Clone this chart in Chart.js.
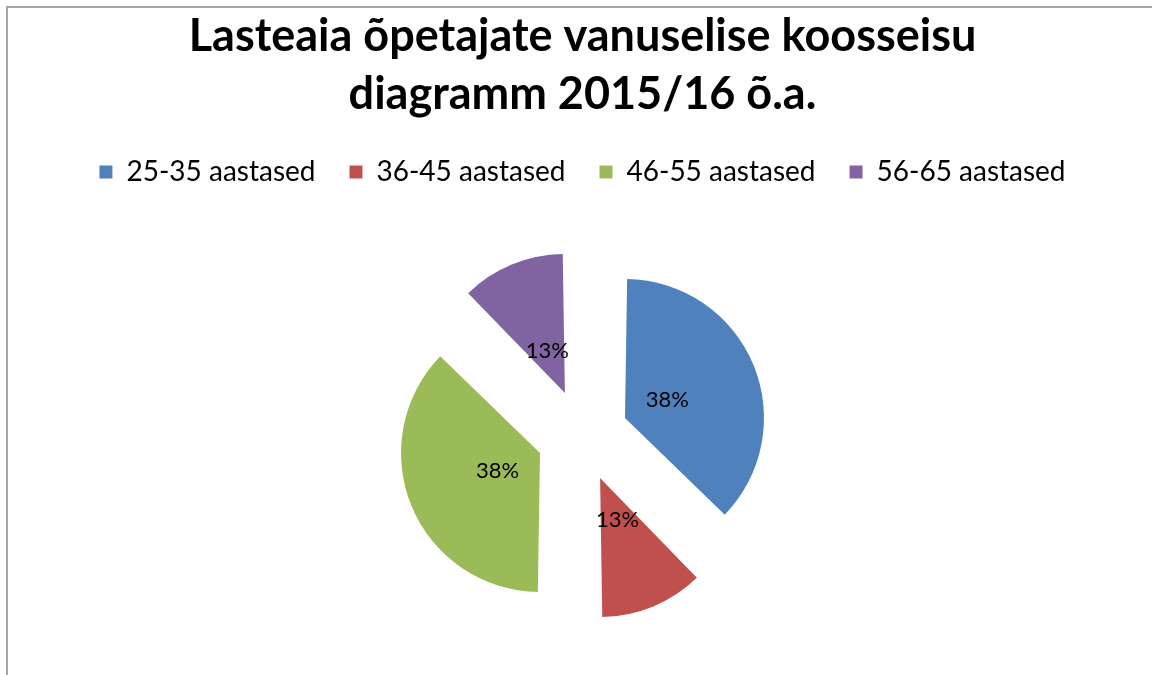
<!DOCTYPE html>
<html>
<head>
<meta charset="utf-8">
<script src="https://cdn.jsdelivr.net/npm/chart.js@4.4.1/dist/chart.umd.min.js"></script>
<style>
    html, body {
        margin: 0;
        padding: 0;
        background: #ffffff;
        overflow: hidden;
    }
    .frame {
        position: absolute;
        left: 6px;
        top: 6px;
        width: 1146px;
        height: 669px;
        border-top: 2px solid #a6a6a6;
        border-left: 2px solid #a6a6a6;
        box-sizing: border-box;
    }
    .chart-box {
        position: absolute;
        left: 13px;
        top: 0;
        width: 1139px;
        height: 675px;
    }
</style>
</head>
<body>
<div class="frame"></div>
<div class="chart-box">
    <canvas id="agePieChart"></canvas>
</div>
<script>
// Chart data
var titleLines = ['Lasteaia õpetajate vanuselise koosseisu', 'diagramm 2015/16 õ.a.'];
var ageGroups = ['25-35 aastased', '36-45 aastased', '46-55 aastased', '56-65 aastased'];
var teacherCounts = [3, 1, 3, 1];
var sliceColors = ['#4F81BD', '#C0504D', '#9BBB59', '#8064A2'];

// Percent labels inside the exploded slices
var sliceLabels = {
    id: 'sliceLabels',
    afterDatasetsDraw(chart) {
        var ctx = chart.ctx;
        var meta = chart.getDatasetMeta(0);
        var total = teacherCounts.reduce((a, b) => a + b, 0);
        ctx.save();
        ctx.font = '22px Lato';
        ctx.fillStyle = '#000000';
        ctx.textAlign = 'center';
        ctx.textBaseline = 'middle';
        meta.data.forEach((arc, i) => {
            var p = arc.getProps(['x', 'y', 'startAngle', 'endAngle', 'outerRadius', 'circumference'], true);
            var mid = (p.startAngle + p.endAngle) / 2;
            var shift = (arc.options.offset || 0) / 4;
            var realRadius = p.outerRadius + shift * (1 - Math.sin(Math.min(Math.PI, p.circumference)));
            var dist = shift + realRadius * 0.33;
            var pct = Math.round(teacherCounts[i] / total * 100) + '%';
            ctx.fillText(pct, p.x + Math.cos(mid) * dist, p.y + Math.sin(mid) * dist);
        });
        ctx.restore();
    }
};

var ctx = document.getElementById('agePieChart').getContext('2d');
var agePieChart = new Chart(ctx, {
    type: 'pie',
    data: {
        labels: ageGroups,
        datasets: [{
            data: teacherCounts,
            backgroundColor: sliceColors,
            borderWidth: 0,
            offset: 184
        }]
    },
    options: {
        responsive: true,
        maintainAspectRatio: false,
        animation: false,
        radius: 125.5,
        layout: {
            padding: {
                top: 0,
                bottom: 0
            }
        },
        plugins: {
            title: {
                display: true,
                text: titleLines,
                color: '#000000',
                font: {
                    family: 'Lato',
                    size: 45,
                    weight: 'bold',
                    lineHeight: 1.3
                },
                padding: {
                    top: 7,
                    bottom: 0
                }
            },
            legend: {
                display: true,
                position: 'top',
                labels: {
                    color: '#000000',
                    boxWidth: 13,
                    boxHeight: 13,
                    padding: 34,
                    font: {
                        family: 'Lato',
                        size: 28
                    }
                }
            },
            tooltip: {
                enabled: false
            }
        }
    },
    plugins: [sliceLabels]
});
</script>
</body>
</html>
